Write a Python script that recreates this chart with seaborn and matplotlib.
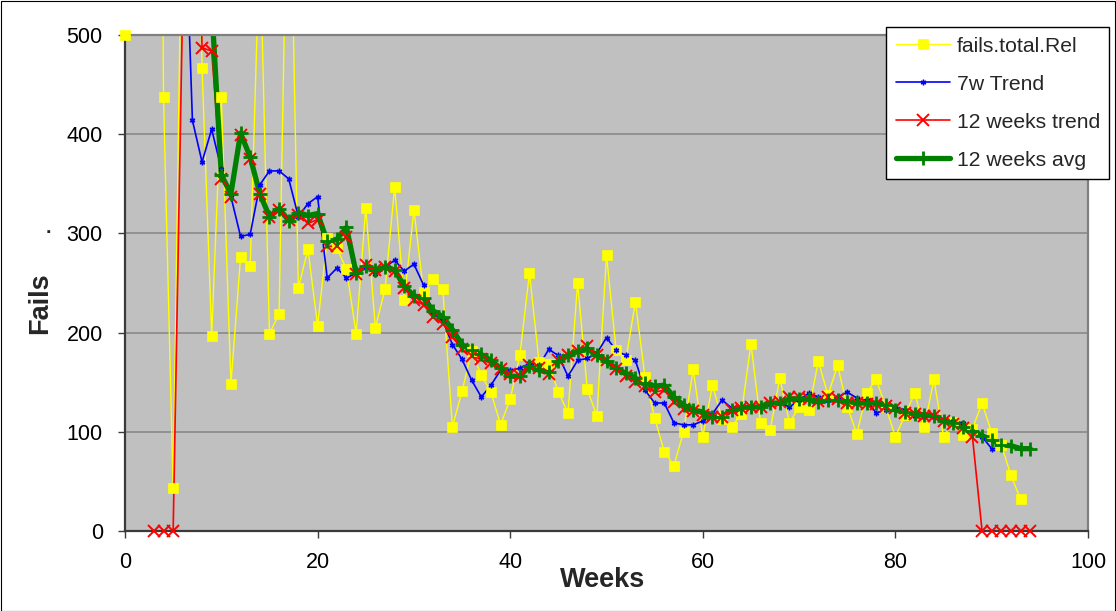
import matplotlib
matplotlib.use("Agg")
import matplotlib.pyplot as plt
from matplotlib.lines import Line2D
from matplotlib.patches import Rectangle
import numpy as np
import seaborn as sns

# Weekly failure counts (release total) and the derived trend series
rel_weeks = list(range(0, 94))
fails_total_rel = [
    500, 1500, 1800, 2000, 437, 43, 700, 900, 467, 197,
    437, 148, 276, 267, 600, 199, 219, 750, 245, 284,
    207, 295, 285, 264, 199, 326, 205, 244, 347, 233,
    324, 241, 254, 244, 105, 141, 181, 157, 140, 107,
    133, 177, 260, 170, 168, 140, 119, 250, 143, 116,
    278, 182, 172, 231, 155, 114, 80, 66, 100, 163,
    95, 147, 113, 105, 118, 189, 109, 102, 154, 109,
    125, 122, 171, 137, 167, 125, 98, 139, 153, 125,
    95, 117, 139, 105, 153, 95, 110, 97, 103, 129,
    99, 87, 56, 32,
]

trend7_weeks = list(range(6, 91))
trend7 = [
    700, 414, 372, 405,
    365, 337, 297, 299, 349, 363, 363, 355, 317, 330,
    337, 255, 265, 255, 260, 266, 259, 266, 273, 262,
    269, 248, 219, 212, 188, 173, 152, 135, 147, 162,
    162, 164, 169, 167, 183, 177, 156, 172, 174, 179,
    195, 182, 177, 172, 142, 129, 129, 109, 107, 107,
    111, 118, 132, 124, 124, 125, 126, 128, 129, 125,
    132, 139, 135, 132, 135, 140, 134, 132, 119, 122,
    125, 122, 116, 115, 115, 112, 111, 109, 101, 95,
    83,
]

trend12_weeks = list(range(3, 95))
trend12 = [
    0, 0, 0, 540, 900, 487, 484,
    355, 337, 399, 375, 340, 317, 324, 314, 319, 310,
    314, 287, 287, 296, 259, 268, 263, 266, 262, 245,
    233, 228, 216, 209, 196, 183, 176, 173, 169, 163,
    158, 156, 167, 164, 158, 172, 177, 181, 186, 177,
    172, 163, 156, 150, 146, 140, 142, 130, 123, 121,
    117, 115, 115, 122, 124, 125, 125, 129, 130, 135,
    135, 133, 131, 135, 133, 129, 129, 128, 128, 126,
    124, 119, 118, 116, 116, 111, 108, 104, 95, 0,
    0, 0, 0, 0, 0,
]

avg12_weeks = list(range(9, 95))
avg12 = [
    530,
    359, 340, 401, 377, 340, 317, 325, 313, 321, 318,
    320, 292, 294, 306, 260, 267, 263, 266, 263, 247,
    237, 235, 222, 216, 203, 188, 182, 178, 172, 164,
    156, 156, 166, 162, 160, 171, 177, 181, 184, 177,
    171, 164, 159, 154, 149, 146, 147, 135, 127, 122,
    120, 115, 115, 122, 124, 125, 125, 129, 129, 133,
    133, 133, 130, 132, 132, 130, 129, 129, 129, 127,
    122, 120, 118, 117, 116, 111, 109, 105, 101, 96,
    92, 87, 86, 83, 83,
]

series_labels = ["fails.total.Rel", "7w Trend", "12 weeks trend", "12 weeks avg"]
x_ticks = [0, 20, 40, 60, 80, 100]
y_ticks = [0, 100, 200, 300, 400, 500]

sns.set_theme(style="white")
plt.rcParams["font.family"] = ["Liberation Sans", "DejaVu Sans"]

W, H = 1116, 611
fig = plt.figure(figsize=(W / 100, H / 100), dpi=100)
fig.patch.set_facecolor("white")
ax = fig.add_axes([125 / W, (H - 531) / H, (1088 - 125) / W, (531 - 35) / H])
ax.set_facecolor("#C0C0C0")

styles = [
    dict(color="#FFFF00", lw=1.0, marker="s", ms=7.2, mew=0.5, mfc="#FFFF00", mec="#FFFF00"),
    dict(color="#0000FF", lw=1.2, marker=(6, 2, 0), ms=4.0, mew=1.0, mfc="#0000FF", mec="#0000FF"),
    dict(color="#FF0000", lw=1.2, marker="x", ms=8.0, mew=1.4, mfc="#FF0000", mec="#FF0000"),
    dict(color="#008000", lw=3.8, marker="+", ms=9.5, mew=2.0, mfc="#008000", mec="#008000"),
]
data = [
    (rel_weeks, fails_total_rel),
    (trend7_weeks, trend7),
    (trend12_weeks, trend12),
    (avg12_weeks, avg12),
]

# connecting lines, clipped to the plot area
for i, ((xs, ys), st) in enumerate(zip(data, styles)):
    sns.lineplot(x=xs, y=ys, ax=ax, color=st["color"], linewidth=st["lw"],
                 estimator=None, errorbar=None, zorder=2 + 0.1 * i, legend=False)

# markers for points inside the value range, drawn over all lines
for i, ((xs, ys), st) in enumerate(zip(data, styles)):
    xa, ya = np.asarray(xs), np.asarray(ys, dtype=float)
    keep = (ya >= 0) & (ya <= 500)
    sns.lineplot(x=xa[keep], y=ya[keep], ax=ax, linestyle="", marker=st["marker"],
                 markersize=st["ms"], mew=st["mew"], mec=st["mec"],
                 markerfacecolor=st["mfc"], estimator=None, errorbar=None,
                 clip_on=False, zorder=3 + 0.1 * i, legend=False)

ax.set_xlim(0, 100)
ax.set_ylim(0, 500)
ax.set_xticks(x_ticks)
ax.set_yticks(y_ticks)
ax.set_xlabel("")
ax.set_ylabel("")

for y in y_ticks[1:-1]:
    ax.axhline(y, color="#8E8E8E", lw=1.3, zorder=1)

for side in ["left", "bottom"]:
    ax.spines[side].set_color("#3A3A3A")
    ax.spines[side].set_linewidth(1.6)
for side in ["top", "right"]:
    ax.spines[side].set_color("#808080")
    ax.spines[side].set_linewidth(1.6)
    ax.spines[side].set_visible(True)

ax.tick_params(axis="both", which="major", direction="out", length=5,
               width=1.0, color="#3A3A3A", labelsize=15.5, labelcolor="black",
               left=True, bottom=True)
ax.tick_params(axis="y", pad=11)
ax.tick_params(axis="x", pad=10)

fig.text(40 / W, 1 - 303 / H, "Fails", rotation=90, ha="center", va="center",
         fontsize=19.5, fontweight="bold")
fig.text(48 / W, 1 - 228 / H, ".", ha="center", va="center", fontsize=14,
         fontweight="bold")
fig.text(603 / W, 1 - 580 / H, "Weeks", ha="center", va="center",
         fontsize=19.5, fontweight="bold")

handles = [
    Line2D([], [], color=st["color"], lw=st["lw"], marker=st["marker"],
           markersize=st["ms"], markeredgewidth=st["mew"],
           markerfacecolor=st["mfc"], markeredgecolor=st["mec"])
    for st in styles
]
leg = ax.legend(handles, series_labels, loc="upper left",
                bbox_to_anchor=(886 / W, 1 - 27 / H), bbox_transform=fig.transFigure,
                borderaxespad=0, frameon=True, fancybox=False, shadow=False,
                fontsize=15.2, handlelength=2.6, handletextpad=0.3,
                labelspacing=0.9, borderpad=0.45)
leg.get_frame().set_edgecolor("black")
leg.get_frame().set_linewidth(1.0)
leg.get_frame().set_facecolor("white")
leg.get_frame().set_alpha(1)
leg.set_zorder(10)

fig.patches.append(Rectangle((0.5 / W, 0.5 / H), 1 - 1.5 / W, 1 - 1.5 / H,
                             transform=fig.transFigure, fill=False,
                             edgecolor="black", linewidth=0.8))

fig.savefig("out.png", dpi=100)
